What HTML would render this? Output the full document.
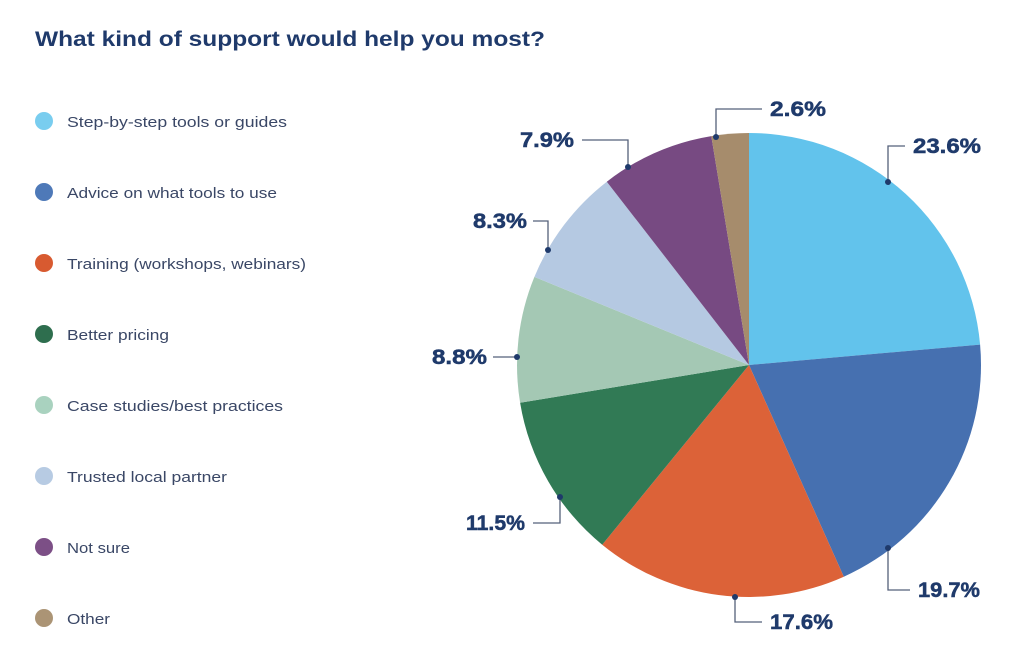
<!DOCTYPE html>
<html><head><meta charset="utf-8"><style>
body{margin:0;background:#fff;width:1024px;height:666px;overflow:hidden;font-family:"Liberation Sans",sans-serif}
</style></head><body>
<svg width="1024" height="666" xmlns="http://www.w3.org/2000/svg">
<text x="35" y="46" font-size="21" font-weight="bold" fill="#1f3a6b" textLength="510" lengthAdjust="spacingAndGlyphs">What kind of support would help you most?</text>
<g font-size="15" fill="#3a4766">
<circle cx="44" cy="121" r="9" fill="#79cdef"/><text x="67" y="127" textLength="220" lengthAdjust="spacingAndGlyphs">Step-by-step tools or guides</text>
<circle cx="44" cy="192" r="9" fill="#4e79b8"/><text x="67" y="198" textLength="210" lengthAdjust="spacingAndGlyphs">Advice on what tools to use</text>
<circle cx="44" cy="263" r="9" fill="#d85a30"/><text x="67" y="269" textLength="239" lengthAdjust="spacingAndGlyphs">Training (workshops, webinars)</text>
<circle cx="44" cy="334" r="9" fill="#2e6e4e"/><text x="67" y="340" textLength="102" lengthAdjust="spacingAndGlyphs">Better pricing</text>
<circle cx="44" cy="405" r="9" fill="#a9d2bf"/><text x="67" y="411" textLength="216" lengthAdjust="spacingAndGlyphs">Case studies/best practices</text>
<circle cx="44" cy="476" r="9" fill="#b7cbe3"/><text x="67" y="482" textLength="160" lengthAdjust="spacingAndGlyphs">Trusted local partner</text>
<circle cx="44" cy="547" r="9" fill="#7c4f86"/><text x="67" y="553" textLength="63" lengthAdjust="spacingAndGlyphs">Not sure</text>
<circle cx="44" cy="618" r="9" fill="#ab9475"/><text x="67" y="624" textLength="43" lengthAdjust="spacingAndGlyphs">Other</text>
</g>
<g stroke="none">
<path d="M749 365 L749 133 A232 232 0 0 1 980.1 344.6Z" fill="#62c3ec"/>
<path d="M749 365 L980.1 344.6 A232 232 0 0 1 843.8 576.7Z" fill="#4670b0"/>
<path d="M749 365 L843.8 576.7 A232 232 0 0 1 602.2 544.7Z" fill="#dc6238"/>
<path d="M749 365 L602.2 544.7 A232 232 0 0 1 520.1 402.7Z" fill="#317a55"/>
<path d="M749 365 L520.1 402.7 A232 232 0 0 1 534.4 276.9Z" fill="#a4c8b4"/>
<path d="M749 365 L534.4 276.9 A232 232 0 0 1 606.8 181.7Z" fill="#b5c9e2"/>
<path d="M749 365 L606.8 181.7 A232 232 0 0 1 711.3 136.1Z" fill="#774a82"/>
<path d="M749 365 L711.3 136.1 A232 232 0 0 1 749 133Z" fill="#a68c6c"/>
</g>
<g stroke="#55607a" stroke-width="1.3" fill="none">
<polyline points="716,137 716,109 762,109"/>
<polyline points="888,182 888,146 905,146"/>
<polyline points="888,548 888,590 910,590"/>
<polyline points="735,597 735,622 762,622"/>
<polyline points="560,497 560,523 533,523"/>
<polyline points="517,357 493,357"/>
<polyline points="548,250 548,221 533,221"/>
<polyline points="628,167 628,140 582,140"/>
</g>
<g fill="#1f3a6b">
<circle cx="716" cy="137" r="3"/><circle cx="888" cy="182" r="3"/><circle cx="888" cy="548" r="3"/><circle cx="735" cy="597" r="3"/>
<circle cx="560" cy="497" r="3"/><circle cx="517" cy="357" r="3"/><circle cx="548" cy="250" r="3"/><circle cx="628" cy="167" r="3"/>
</g>
<g font-size="21" font-weight="bold" fill="#1f3a6b" stroke="#1f3a6b" stroke-width="0.5">
<text x="770" y="116" textLength="56" lengthAdjust="spacingAndGlyphs">2.6%</text>
<text x="913" y="153" textLength="68" lengthAdjust="spacingAndGlyphs">23.6%</text>
<text x="918" y="597" textLength="62" lengthAdjust="spacingAndGlyphs">19.7%</text>
<text x="770" y="629" textLength="63" lengthAdjust="spacingAndGlyphs">17.6%</text>
<text x="466" y="530" textLength="59" lengthAdjust="spacingAndGlyphs">11.5%</text>
<text x="432" y="364" textLength="55" lengthAdjust="spacingAndGlyphs">8.8%</text>
<text x="473" y="228" textLength="54" lengthAdjust="spacingAndGlyphs">8.3%</text>
<text x="520" y="147" textLength="54" lengthAdjust="spacingAndGlyphs">7.9%</text>
</g>
</svg>
</body></html>
